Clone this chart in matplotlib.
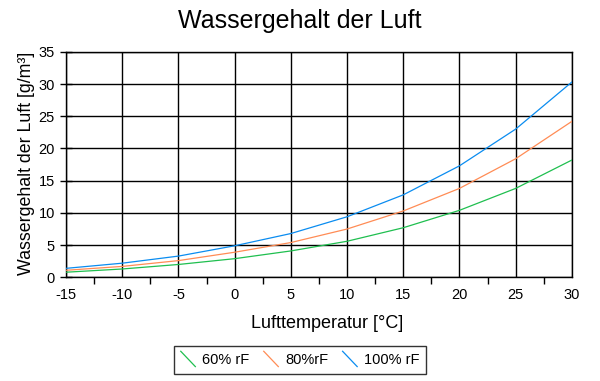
import numpy as np
import matplotlib.pyplot as plt
from matplotlib.lines import Line2D
from matplotlib.legend_handler import HandlerBase

plt.rcParams['font.family'] = ['Liberation Sans', 'DejaVu Sans']
plt.rcParams['axes.unicode_minus'] = False

# Lufttemperatur in Grad Celsius
temps = [-15, -10, -5, 0, 5, 10, 15, 20, 25, 30]
# Wassergehalt in g/m3 bei verschiedenen relativen Feuchten
rf60 = [0.8, 1.3, 2.0, 2.9, 4.1, 5.6, 7.7, 10.4, 13.8, 18.2]
rf80 = [1.1, 1.7, 2.6, 3.9, 5.4, 7.5, 10.3, 13.8, 18.4, 24.2]
rf100 = [1.4, 2.2, 3.3, 4.9, 6.8, 9.4, 12.8, 17.3, 23.0, 30.3]

labels = ['60% rF', '80%rF', '100% rF']
colors = ['#1fbf4f', '#ff8c55', '#0a8cf0']


class DiagonalHandler(HandlerBase):
    # Excel-style legend key: short diagonal line
    def create_artists(self, legend, orig_handle, xdescent, ydescent,
                       width, height, fontsize, trans):
        line = Line2D([-xdescent, -xdescent + width],
                      [-ydescent + height * 1.25, -ydescent - height * 0.25],
                      color=orig_handle.get_color(), lw=0.9, transform=trans)
        return [line]


fig = plt.figure(figsize=(6, 3.81), dpi=100)
ax = fig.add_axes([0.11, 0.272, 0.843, 0.592])

lines = []
for series, col, lab in zip([rf60, rf80, rf100], colors, labels):
    ln, = ax.plot(temps, series, color=col, lw=0.9, label=lab, zorder=3)
    lines.append(ln)

ax.set_xlim(-15, 30)
ax.set_ylim(0, 35)

ax.set_xticks(np.arange(-15, 31, 5))
ax.set_xticks([-15] + list(np.arange(-12.5, 30, 5)), minor=True)
ax.set_yticks(np.arange(0, 36, 5))
ax.tick_params(axis='x', which='major', length=0, labelsize=10.5, pad=8)
ax.tick_params(axis='x', which='minor', length=5, width=1, direction='out')
ax.tick_params(axis='y', which='major', length=8, width=1, direction='inout',
               labelsize=10.5, pad=4)

ax.grid(True, which='major', color='black', lw=1)
for sp in ax.spines.values():
    sp.set_color('black')
    sp.set_linewidth(1)

fig.text(0.5, 0.945, 'Wassergehalt der Luft', ha='center', va='center', fontsize=18)
fig.text(0.545, 0.152, 'Lufttemperatur [°C]', ha='center', va='center', fontsize=13)
fig.text(0.045, 0.57, 'Wassergehalt der Luft [g/m³]', ha='center', va='center',
         rotation=90, fontsize=12.8)

leg = fig.legend(lines, labels, loc='center', bbox_to_anchor=(0.5, 0.055), ncol=3,
                 fontsize=10.5, frameon=True, fancybox=False, edgecolor='black',
                 handler_map={Line2D: DiagonalHandler()}, handlelength=1.0,
                 handletextpad=0.45, columnspacing=1.0, borderpad=0.45,
                 borderaxespad=0)
leg.get_frame().set_linewidth(1)

fig.savefig('out.png', dpi=100)
